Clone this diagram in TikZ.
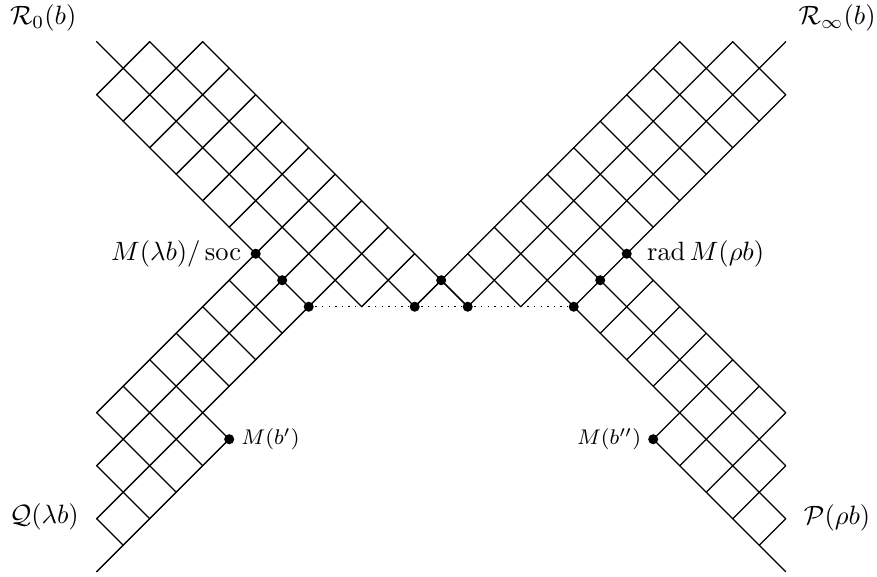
\documentclass[tikz,border=0pt]{standalone}
\usepackage{amsmath}
\newcommand\mkhalfgrid{%
  \draw[latline] (0,2)--(8,10) (0,0)--(10,10) (2,0)--(12,10) (4,0)--(14,10);
  \draw[latline] (0,2)--(2,0);
  \foreach \k in {4,6,8,10,12}
    \draw[latline] ({(\k-2)/2},{(\k+2)/2}) -- ({(\k+4)/2},{(\k-4)/2});
  \draw[latline] (0,14)--(9,5) (0,16)--(10,6) (0,18)--(11,7)
    (10,10)--(12,8) (0,20)--(5,15) (12,10)--(13,9);
  \foreach \d/\a/\b in {4/5/7,6/4/6,8/3/5,10/2/5,12/1/4,14/0/3,16/0/2,18/0/1}
    \draw[latline] (\a,{\a+\d}) -- (\b,{\b+\d});
}
\begin{document}
\begin{tikzpicture}[x=10pt,y=-10pt,
  latline/.style={line width=0.5pt, line cap=round},
  dotnode/.style={circle,fill,inner sep=0pt,minimum size=3.8pt},
  lbl/.style={inner sep=0pt}]
\useasboundingbox (-3.649,-1.574) rectangle (29.445,20.162);
% lattice
\mkhalfgrid
\begin{scope}[xshift=260pt,xscale=-1]
  \mkhalfgrid
\end{scope}
% dot positions
\coordinate (pa) at (6,8);
\coordinate (pb) at (7,9);
\coordinate (pc) at (8,10);
\coordinate (pd) at (12,10);
\coordinate (pe) at (13,9);
\coordinate (pf) at (14,10);
\coordinate (pg) at (18,10);
\coordinate (ph) at (19,9);
\coordinate (pi) at (20,8);
\coordinate (pj) at (5,15);
\coordinate (pk) at (21,15);
\draw[dotted, line width=0.5pt] (pc) -- (pg);
\foreach \p in {pa,pb,pc,pd,pe,pf,pg,ph,pi,pj,pk}
  \node[dotnode] (n\p) at (\p) {};
% labels
\node[lbl,anchor=east] (lsoc) at ([xshift=-5.3pt]npa.center) {$M(\lambda b)/\operatorname{soc}$};
\node[lbl,anchor=west] (lrad) at ([xshift=7.5pt]npi.center) {$\operatorname{rad} M(\rho b)$};
\node[lbl,anchor=west] (lbp) at ([xshift=4.4pt]npj.center) {\footnotesize $M(b')$};
\node[lbl,anchor=east] (lbpp) at ([xshift=-4.4pt]npk.center) {\footnotesize $M(b'')$};
\node[lbl] (rzero) at (-2.02,-0.89) {$\mathcal{R}_0(b)$};
\node[lbl] (rinf) at (27.94,-0.89) {$\mathcal{R}_\infty(b)$};
\node[lbl] (qlb) at (-1.98,17.93) {$\mathcal{Q}(\lambda b)$};
\node[lbl] (prb) at (27.94,17.95) {$\mathcal{P}(\rho b)$};
\end{tikzpicture}
\end{document}
